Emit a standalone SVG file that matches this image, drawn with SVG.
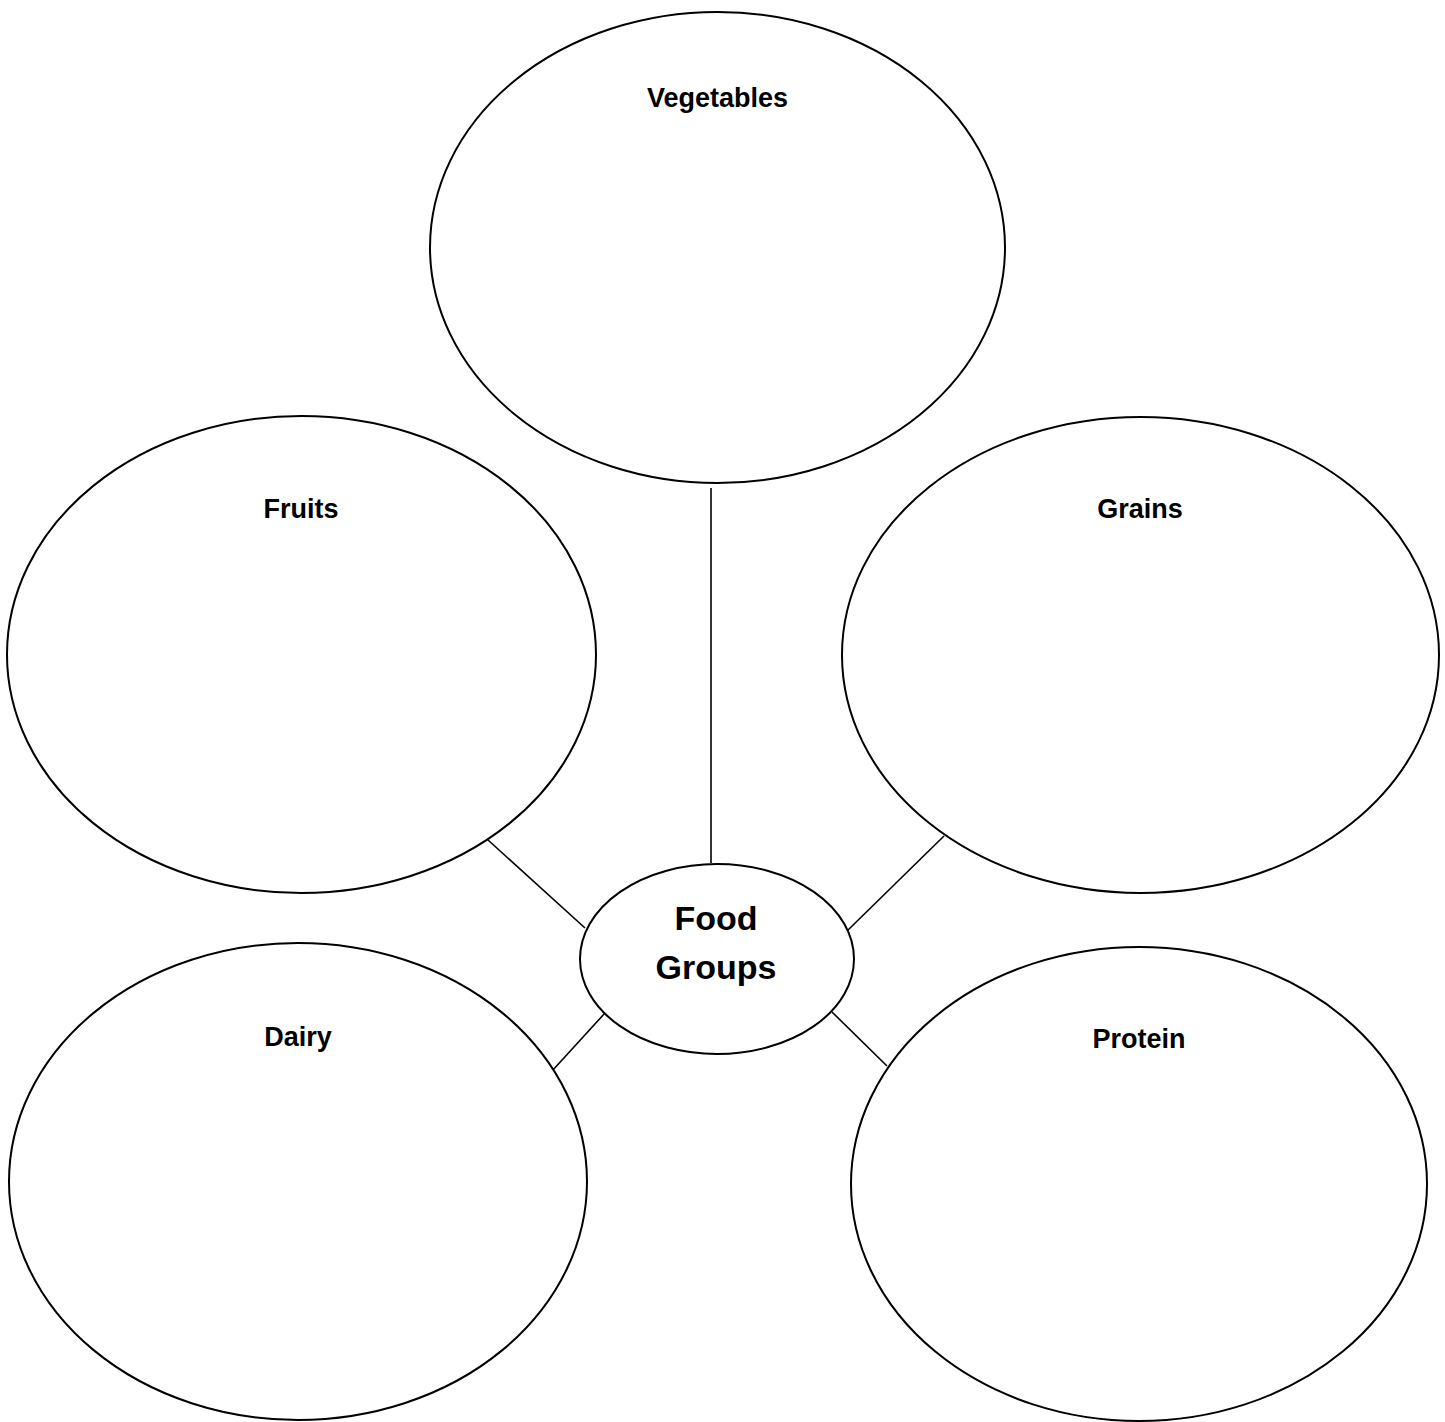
<svg xmlns="http://www.w3.org/2000/svg" width="1445" height="1422" viewBox="0 0 1445 1422">
<style>
.node{fill:#fff;stroke:#000;stroke-width:2}
.lbl{font-family:"Liberation Sans",Arial,sans-serif;font-weight:bold;font-size:27px;text-anchor:middle;fill:#000}
.center{font-family:"Liberation Sans",Arial,sans-serif;font-weight:bold;font-size:34px;text-anchor:middle;fill:#000}
.conn{stroke:#000;stroke-width:1.6;fill:none}
</style>
<rect width="1445" height="1422" fill="#fff"/>
<g id="connectors">
<line class="conn" x1="711" y1="488" x2="711" y2="863"/>
<line class="conn" x1="488" y1="840" x2="585" y2="928"/>
<line class="conn" x1="944" y1="836" x2="847" y2="931"/>
<line class="conn" x1="605" y1="1013" x2="552" y2="1071"/>
<line class="conn" x1="832" y1="1012" x2="887" y2="1066"/>
</g>
<g id="vegetables">
<ellipse class="node" cx="717.5" cy="247.5" rx="287.5" ry="235.5"/>
<text class="lbl" x="717.5" y="107">Vegetables</text>
</g>
<g id="fruits">
<ellipse class="node" cx="301.5" cy="654.5" rx="294.5" ry="238.5"/>
<text class="lbl" x="301" y="518">Fruits</text>
</g>
<g id="grains">
<ellipse class="node" cx="1140.5" cy="655" rx="298.5" ry="238"/>
<text class="lbl" x="1140" y="518">Grains</text>
</g>
<g id="dairy">
<ellipse class="node" cx="298" cy="1181.5" rx="289" ry="238.5"/>
<text class="lbl" x="298" y="1046">Dairy</text>
</g>
<g id="protein">
<ellipse class="node" cx="1139" cy="1184" rx="288" ry="237"/>
<text class="lbl" x="1139" y="1048">Protein</text>
</g>
<g id="food-groups">
<ellipse class="node" cx="717" cy="959" rx="137" ry="95"/>
<text class="center" x="716" y="930">Food</text>
<text class="center" x="716" y="979">Groups</text>
</g>
</svg>
